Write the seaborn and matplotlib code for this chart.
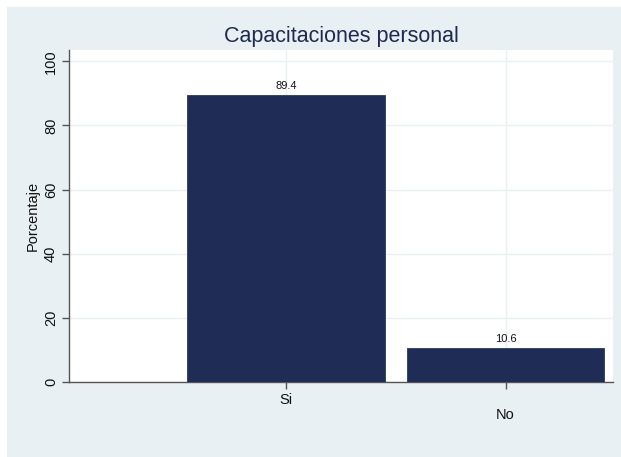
import matplotlib
matplotlib.use("Agg")
import matplotlib.pyplot as plt
import seaborn as sns
import pandas as pd
from matplotlib.patches import Rectangle

categories = ["Si", "No"]
values = [89.4, 10.6]
y_ticks = [0, 20, 40, 60, 80, 100]

df = pd.DataFrame({"respuesta": categories, "porcentaje": values})

sns.set_theme(style="white")
plt.rcParams["font.family"] = ["Liberation Sans", "DejaVu Sans"]

BG = "#e8f0f3"
NAVY = "#1f2c55"
GRID = "#eaf1f3"
AXIS = "#555555"

fig = plt.figure(figsize=(6.21, 4.57), dpi=100, facecolor="white")
fig.patches.append(Rectangle((7 / 621, 0), 1 - 7 / 621, 1 - 7 / 457,
                             transform=fig.transFigure, facecolor=BG,
                             edgecolor="none", zorder=-10))
ax = fig.add_axes([69 / 621, 1 - 382 / 457, (613 - 69) / 621, (382 - 50) / 457])
ax.set_facecolor("white")

sns.barplot(data=df, x="respuesta", y="porcentaje", order=categories,
            color=NAVY, saturation=1, width=0.9, edgecolor="#2a3860",
            linewidth=0.6, ax=ax, zorder=3)

for c in ax.containers:
    ax.bar_label(c, labels=[f"{v:.1f}" for v in values], padding=3,
                 fontsize=8, color="#111111")

ax.set_xlim(-0.99, 1.49)
ax.set_ylim(0, 103.5)
ax.set_yticks(y_ticks)
ax.set_yticklabels([str(t) for t in y_ticks], rotation=90, va="center",
                   fontsize=10.5, color="#111111")
ax.set_xticks([0, 1])
ax.set_xticklabels(["Si", "\nNo"], fontsize=10.5, color="#111111",
                   linespacing=1.1)

ax.grid(True, color=GRID, linewidth=1.0, zorder=0)
ax.set_axisbelow(True)

for s in ["top", "right"]:
    ax.spines[s].set_visible(False)
for s in ["left", "bottom"]:
    ax.spines[s].set_color(AXIS)
    ax.spines[s].set_linewidth(1.0)
ax.tick_params(axis="both", direction="out", length=5, width=1,
               color=AXIS, pad=3, bottom=True, left=True)

ax.set_xlabel("")
ax.set_ylabel("Porcentaje", fontsize=10.5, color="#111111", labelpad=3)
ax.set_title("Capacitaciones personal", fontsize=15.5, color="#1e2a50",
             pad=6)

fig.savefig("out.png", dpi=100, facecolor=fig.get_facecolor())
